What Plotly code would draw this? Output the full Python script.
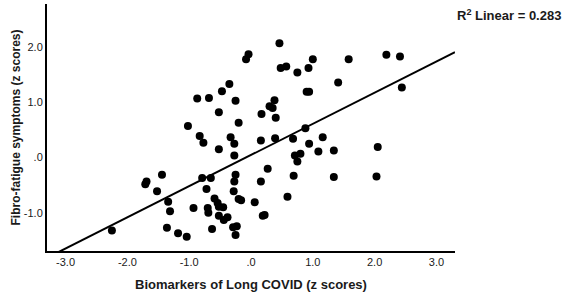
import plotly.graph_objects as go

# Biomarkers of Long COVID (z scores)
BIOMARKERS_Z = [
    -0.04, -0.08, -0.35, -0.47, -0.87, -0.68, -0.25, -0.52, 0.17, -0.20,
    -1.02, -0.83, -0.77, -0.33, -0.27, -0.52, 0.16, 0.46, 0.48, 0.57,
    0.75, 0.93, 1.00, 1.58, 2.19, 2.41, 1.41, 0.90, 0.94, 2.44,
    0.38, 0.30, 0.35, 0.40, 0.88, 0.39, 0.68, 1.16, 0.94, 2.05,
    0.71, 0.80, 0.75, 1.09, 1.34, 0.27, 0.16, 0.69, 1.34, 2.03,
    0.59, 0.06, 0.19, 0.22, -0.27, -1.44, -1.69, -1.71, -1.52, -0.79,
    -0.65, -0.25, -0.27, -0.72, -0.28, -1.34, -1.31, -0.93, -0.70, -0.69,
    -0.59, -0.54, -0.52, -0.45, -0.52, -0.44, -0.38, -0.20, -0.16, -2.25,
    -1.36, -1.18, -1.04, -0.63, -0.29, -0.23, -0.25,
]
# Fibro-fatigue symptoms (z scores)
FIBRO_FATIGUE_Z = [
    1.87, 1.78, 1.33, 1.20, 1.07, 1.08, 1.03, 0.82, 0.79, 0.63,
    0.57, 0.39, 0.27, 0.37, 0.25, 0.15, 0.31, 2.07, 1.62, 1.65,
    1.54, 1.62, 1.78, 1.78, 1.86, 1.83, 1.36, 1.19, 1.19, 1.27,
    1.04, 0.93, 0.90, 0.72, 0.53, 0.35, 0.34, 0.37, 0.25, 0.19,
    0.04, 0.07, -0.07, 0.11, 0.13, -0.20, -0.43, -0.33, -0.35, -0.34,
    -0.71, -0.81, -1.05, -1.04, 0.04, -0.31, -0.43, -0.48, -0.61, -0.37,
    -0.37, -0.31, -0.43, -0.57, -0.61, -0.80, -0.97, -0.91, -0.91, -1.00,
    -0.74, -0.82, -0.89, -0.90, -1.05, -1.13, -1.08, -0.75, -0.77, -1.32,
    -1.27, -1.37, -1.43, -1.29, -1.26, -1.24, -1.40,
]

# Linear fit
FIT_SLOPE = [0.564]
FIT_INTERCEPT = [0.047]
R_SQUARED = [0.283]

X_TICKS = [-3.0, -2.0, -1.0, 0.0, 1.0, 2.0, 3.0]
X_TICK_TEXT = ["-3.0", "-2.0", "-1.0", ".0", "1.0", "2.0", "3.0"]
Y_TICKS = [-1.0, 0.0, 1.0, 2.0]
Y_TICK_TEXT = ["-1.0", ".0", "1.0", "2.0"]

X_RANGE = [-3.3, 3.3]
Y_RANGE = [-1.69, 2.78]

FONT = "Arial, 'Liberation Sans', sans-serif"
TXT = "#1a1a1a"

fit_x = list(X_RANGE)
fit_y = [FIT_INTERCEPT[0] + FIT_SLOPE[0] * v for v in fit_x]

fig = go.Figure()
fig.add_trace(go.Scatter(
    x=fit_x, y=fit_y, mode="lines",
    line=dict(color="black", width=2), hoverinfo="skip", showlegend=False,
))
fig.add_trace(go.Scatter(
    x=BIOMARKERS_Z, y=FIBRO_FATIGUE_Z, mode="markers",
    marker=dict(color="black", size=8, line=dict(width=0)), showlegend=False,
))

axis_common = dict(
    showgrid=False, zeroline=False, showline=True, linecolor="black",
    linewidth=2, ticks="", automargin=False,
    tickfont=dict(family=FONT, size=11, color=TXT),
)

L, R, T, B = 47, 111, 4, 45
PW, PH = 566 - L - R, 296 - T - B

fig.update_layout(
    width=566, height=296,
    margin=dict(l=L, r=R, t=T, b=B, autoexpand=False),
    paper_bgcolor="white", plot_bgcolor="white",
    font=dict(family=FONT, color=TXT),
    xaxis=dict(
        range=X_RANGE, tickvals=X_TICKS, ticktext=X_TICK_TEXT,
        title=dict(text="<b>Biomarkers of Long COVID (z scores)</b>",
                   font=dict(family=FONT, size=13, color=TXT), standoff=13),
        tickprefix="<b>", ticksuffix="</b>",
        **axis_common,
    ),
    yaxis=dict(
        range=Y_RANGE, tickvals=Y_TICKS, ticktext=Y_TICK_TEXT,
        title=dict(text="<b>Fibro-fatigue symptoms (z scores)</b>",
                   font=dict(family=FONT, size=12, color=TXT), standoff=1),
        tickprefix="<b>", ticksuffix="</b>",
        **axis_common,
    ),
    annotations=[dict(
        text=f"<b>R<sup>2</sup> Linear = {R_SQUARED[0]:.3f}</b>",
        xref="paper", yref="paper",
        x=(455 - L) / PW, y=(296 - B - 15) / PH,
        xanchor="left", yanchor="middle",
        showarrow=False, font=dict(family=FONT, size=13, color=TXT),
    )],
)

fig.write_html(
    "out.html",
    config={"displayModeBar": False},
    post_script="document.body.style.margin='0';document.body.style.padding='0';",
)
